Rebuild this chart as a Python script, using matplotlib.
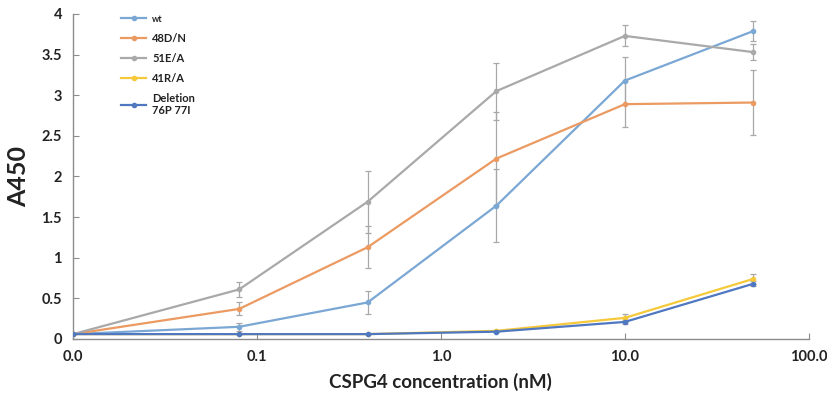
import matplotlib
matplotlib.use("Agg")
import matplotlib.pyplot as plt
import numpy as np

plt.rcParams['font.family'] = ['Lato', 'DejaVu Sans']

conc = [0.01, 0.08, 0.4, 2, 10, 50]
x_ticks = [0.01, 0.1, 1, 10, 100]
x_ticklabels = ["0.0", "0.1", "1.0", "10.0", "100.0"]
y_ticks = [0, 0.5, 1, 1.5, 2, 2.5, 3, 3.5, 4]
y_ticklabels = ["0", "0.5", "1", "1.5", "2", "2.5", "3", "3.5", "4"]

labels = ["wt", "48D/N", "51E/A", "41R/A", "Deletion\n76P 77I"]
wt = [0.06, 0.15, 0.45, 1.64, 3.18, 3.79]
wt_err = [0.0, 0.05, 0.14, 0.45, 0.29, 0.12]
d48 = [0.06, 0.37, 1.13, 2.22, 2.89, 2.91]
d48_err = [0.0, 0.08, 0.26, 0.57, 0.28, 0.40]
e51 = [0.06, 0.61, 1.69, 3.05, 3.73, 3.53]
e51_err = [0.0, 0.09, 0.38, 0.35, 0.13, 0.10]
r41 = [0.06, 0.06, 0.06, 0.10, 0.26, 0.74]
r41_err = [0.0, 0.0, 0.0, 0.01, 0.05, 0.06]
dele = [0.06, 0.06, 0.06, 0.09, 0.21, 0.68]
dele_err = [0.0, 0.0, 0.0, 0.01, 0.02, 0.03]

series = [wt, d48, e51, r41, dele]
errs = [wt_err, d48_err, e51_err, r41_err, dele_err]
colors = ["#7ba7d4", "#eb9a62", "#a9a9a9", "#f5c93a", "#4f78c0"]

fig = plt.figure(figsize=(8.27, 3.99), dpi=100)
ax = fig.add_axes([0.0883, 0.1504, 0.8897, 0.8146])

handles = []
for vals, err, c, lab in zip(series, errs, colors, labels):
    cont = ax.errorbar(conc, vals, yerr=err, color=c, ecolor="#a8a8a8", elinewidth=0.9,
                       capsize=2.2, capthick=0.9, lw=1.6, marker='o', markersize=3,
                       label=lab, zorder=3)
    handles.append(cont.lines[0])

ax.set_xscale('log')
ax.set_xlim(0.01, 100)
ax.set_ylim(0, 4)
ax.set_xticks(x_ticks)
ax.set_xticklabels(x_ticklabels, fontsize=10.5, fontweight='bold', color="#222222")
ax.minorticks_off()
ax.set_yticks(y_ticks)
ax.set_yticklabels(y_ticklabels, fontsize=10.5, fontweight='bold', color="#222222")
ax.tick_params(direction='in', length=4, color="#8c8c8c", pad=8)
ax.tick_params(axis='y', pad=8)
for s in ['top', 'right']:
    ax.spines[s].set_visible(False)
for s in ['left', 'bottom']:
    ax.spines[s].set_color("#8c8c8c")
    ax.spines[s].set_linewidth(1.0)

ax.set_xlabel("CSPG4 concentration (nM)", fontsize=13.5, fontweight='bold', labelpad=6,
              color="#222222")
ax.set_ylabel("A450", fontsize=18, fontweight='bold', labelpad=8, color="#222222")

leg = ax.legend(handles, labels, loc='upper left', bbox_to_anchor=(0.052, 1.03),
                frameon=False, handlelength=2.2, handletextpad=0.6, labelspacing=0.8,
                prop={'weight': 'bold', 'size': 8})
for t in leg.get_texts():
    t.set_color("#222222")
leg.get_texts()[0].set_fontsize(6.5)

fig.savefig("out.png", dpi=100)
